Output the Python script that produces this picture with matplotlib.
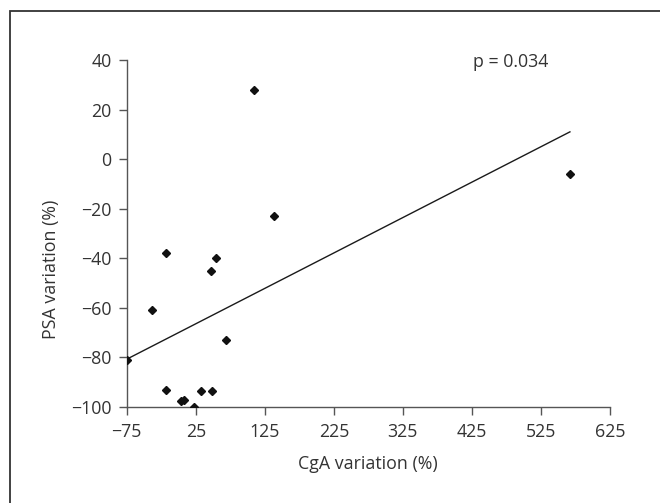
import numpy as np
import matplotlib
matplotlib.use('Agg')
import matplotlib.pyplot as plt
from matplotlib.patches import Rectangle

# CgA variation (%) vs PSA variation (%)
cga = [-75, -38, -18, -18, 4, 8, 22, 33, 49, 47, 54, 69, 109, 139, 567]
psa = [-81, -61, -38, -93, -97.7, -97, -100, -93.7, -93.7, -45, -40, -73, 28, -23, -6]
p_label = 'p = 0.034'

xticks = [-75, 25, 125, 225, 325, 425, 525, 625]
yticks = [40, 20, 0, -20, -40, -60, -80, -100]

plt.rcParams['font.family'] = ['Open Sans', 'DejaVu Sans']
plt.rcParams['axes.unicode_minus'] = True
fs = 12.8

fig = plt.figure(figsize=(6.6, 5.03), dpi=100)
ax = fig.add_axes([0.192, 0.1909, 0.7322, 0.6898])

# rahmen links/oben (rechts/unten ausserhalb des bildes)
fig.patches.append(Rectangle((0.0145, -0.5), 2, 0.5 + 0.979, transform=fig.transFigure,
                             fill=False, edgecolor='#333333', linewidth=1.3))

# trendlinie
k, d = np.polyfit(cga, psa, 1)
xl = np.array([min(cga), max(cga)])
ax.plot(xl, k * xl + d, color='#1a1a1a', linewidth=1.0, zorder=2)

ax.plot(cga, psa, linestyle='none', marker='D', markersize=3.8, color='#111111', zorder=3)

ax.set_xlim(-75, 625)
ax.set_ylim(-100, 40)
ax.set_xticks(xticks)
ax.set_yticks(yticks)

for s in ['top', 'right']:
    ax.spines[s].set_visible(False)
for s in ['left', 'bottom']:
    ax.spines[s].set_color('#555555')
    ax.spines[s].set_linewidth(1.0)

ax.tick_params(axis='both', direction='out', color='#555555', labelcolor='#333333',
               labelsize=fs, width=1.0)
ax.tick_params(axis='x', length=5.5, pad=6)
ax.tick_params(axis='y', length=6, pad=5)

ax.set_xlabel('CgA variation (%)', fontsize=fs, color='#333333', va='center')
ax.set_ylabel('PSA variation (%)', fontsize=fs, color='#333333', va='center')
ax.xaxis.set_label_coords(0.5, -0.163)
ax.yaxis.set_label_coords(-0.1566, 0.397)

ax.text(0.717, 0.995, p_label, transform=ax.transAxes, fontsize=fs, color='#333333',
        ha='left', va='center')

fig.savefig('out.png', dpi=100)
